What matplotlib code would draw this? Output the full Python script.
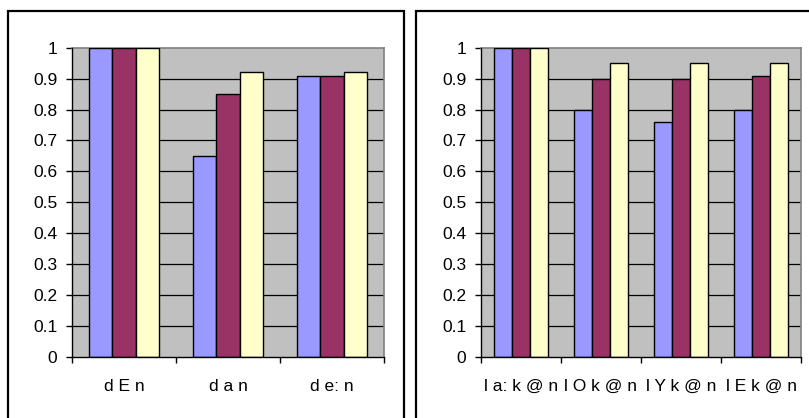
import matplotlib
matplotlib.use('Agg')
import matplotlib.pyplot as plt
import numpy as np
from matplotlib.patches import Rectangle

plt.rcParams['font.family'] = ['Liberation Sans', 'DejaVu Sans']

# word sets and the three measured proportions per word
left_words = ['d E n', 'd a n', 'd e: n']
left_a = [1.00, 0.65, 0.91]
left_b = [1.00, 0.85, 0.91]
left_c = [1.00, 0.92, 0.92]

right_words = ['l a: k @ n', 'l O k @ n', 'l Y k @ n', 'l E k @ n']
right_a = [1.00, 0.80, 0.76, 0.80]
right_b = [1.00, 0.90, 0.90, 0.91]
right_c = [1.00, 0.95, 0.95, 0.95]

colors = ['#9999FF', '#993366', '#FFFFCC']
yticks = np.round(np.arange(0, 1.01, 0.1), 1)
ytick_labels = ['0', '0.1', '0.2', '0.3', '0.4', '0.5', '0.6', '0.7', '0.8', '0.9', '1']

W, H = 809, 418
fig = plt.figure(figsize=(W / 100, H / 100), dpi=100)


def px_axes(x0, y0, x1, y1):
    return fig.add_axes([x0 / W, 1 - y1 / H, (x1 - x0) / W, (y1 - y0) / H])


def draw_panel(ax, words, series):
    n = len(words)
    bw = 1 / 4.5
    x = np.arange(n) + 0.5
    ax.set_facecolor('#C0C0C0')
    for i, (vals, col) in enumerate(zip(series, colors)):
        ax.bar(x + (i - 1) * bw, vals, width=bw, color=col,
               edgecolor='black', linewidth=1.0, zorder=3)
    for y in yticks[1:-1]:
        ax.axhline(y, color='black', linewidth=0.9, zorder=1)
    ax.set_xlim(0, n)
    ax.set_ylim(0, 1)
    ax.set_yticks(yticks)
    ax.set_yticklabels(ytick_labels)
    ax.set_xticks(np.arange(n + 1))
    ax.set_xticklabels([])
    ax.set_xticks(x, minor=True)
    ax.set_xticklabels(words, minor=True)
    ax.tick_params(axis='y', direction='out', length=4.5, width=1,
                   pad=6, labelsize=12.5)
    ax.tick_params(axis='x', which='major', direction='out', length=4,
                   width=1)
    ax.tick_params(axis='x', which='minor', length=0, pad=16,
                   labelsize=12.5)
    for side in ['left', 'bottom']:
        ax.spines[side].set_color('black')
        ax.spines[side].set_linewidth(1.0)
        ax.spines[side].set_zorder(4)
    for side in ['top', 'right']:
        ax.spines[side].set_color('#808080')
        ax.spines[side].set_linewidth(1.2)


ax1 = px_axes(72, 47.7, 384, 357)
draw_panel(ax1, left_words, [left_a, left_b, left_c])
ax2 = px_axes(481, 47.7, 801, 357)
draw_panel(ax2, right_words, [right_a, right_b, right_c])

# chart frames, running past the bottom and right edges
for x0, x1 in [(8, 403.5), (416, 830)]:
    fig.patches.append(Rectangle((x0 / W, -0.1), (x1 - x0) / W,
                                 1.1 - 11 / H, transform=fig.transFigure,
                                 fill=False, edgecolor='black',
                                 linewidth=1.6))

fig.savefig('out.png', dpi=100)
